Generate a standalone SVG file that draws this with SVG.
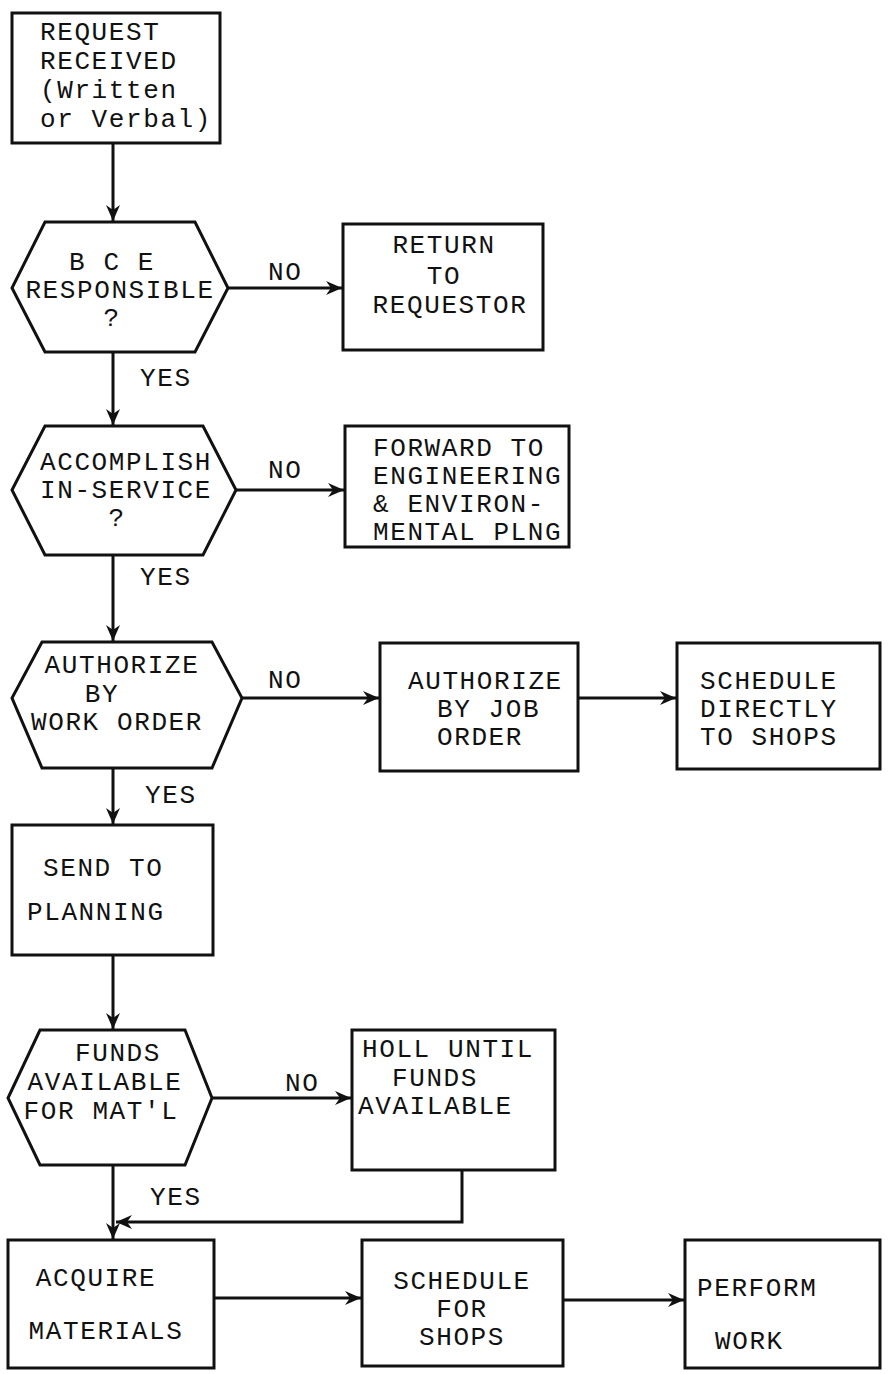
<svg xmlns="http://www.w3.org/2000/svg" width="890" height="1374" viewBox="0 0 890 1374">
<style>
.shape{fill:#fff;stroke:#111;stroke-width:3;stroke-linejoin:miter}
.t{font-family:"Liberation Mono","Courier New",monospace;font-size:26px;letter-spacing:1.6px;fill:#111}
.c{text-anchor:middle}
.conn{fill:none;stroke:#111;stroke-width:3}
</style>
<defs>
<marker id="ah" markerUnits="userSpaceOnUse" markerWidth="18" markerHeight="14" refX="16" refY="7" orient="auto">
<path d="M0,0 L16,7 L0,14 L5,7 z" fill="#111"/>
</marker>
</defs>
<rect width="890" height="1374" fill="#fff"/>

<g id="connectors">
<path class="conn" d="M113,143 V221" marker-end="url(#ah)"/>
<path class="conn" d="M228,288 H342" marker-end="url(#ah)"/>
<path class="conn" d="M113,352 V425" marker-end="url(#ah)"/>
<path class="conn" d="M236,490 H344" marker-end="url(#ah)"/>
<path class="conn" d="M113,555 V641" marker-end="url(#ah)"/>
<path class="conn" d="M242,698 H379" marker-end="url(#ah)"/>
<path class="conn" d="M578,698 H676" marker-end="url(#ah)"/>
<path class="conn" d="M113,768 V824" marker-end="url(#ah)"/>
<path class="conn" d="M113,955 V1029" marker-end="url(#ah)"/>
<path class="conn" d="M212,1098 H351" marker-end="url(#ah)"/>
<path class="conn" d="M113,1165 V1239" marker-end="url(#ah)"/>
<path class="conn" d="M462,1170 V1222 H116" marker-end="url(#ah)"/>
<path class="conn" d="M214,1298 H361" marker-end="url(#ah)"/>
<path class="conn" d="M563,1300 H684" marker-end="url(#ah)"/>
<text class="t" x="268" y="280">NO</text>
<text class="t" x="140" y="386">YES</text>
<text class="t" x="268" y="478">NO</text>
<text class="t" x="140" y="585">YES</text>
<text class="t" x="268" y="688">NO</text>
<text class="t" x="145" y="803">YES</text>
<text class="t" x="285" y="1091">NO</text>
<text class="t" x="150" y="1205">YES</text>
</g>

<g id="request-received">
<rect class="shape" x="12" y="13" width="208" height="130"/>
<text class="t" x="40" y="40">REQUEST</text>
<text class="t" x="40" y="69">RECEIVED</text>
<text class="t" x="40" y="98">(Written</text>
<text class="t" x="40" y="127">or Verbal)</text>
</g>

<g id="bce-responsible">
<polygon class="shape" points="45,222 195,222 228,288 195,352 45,352 12,288"/>
<text class="t c" x="112" y="270">B C E</text>
<text class="t c" x="120" y="298">RESPONSIBLE</text>
<text class="t c" x="112" y="326">?</text>
</g>

<g id="return-to-requestor">
<rect class="shape" x="343" y="224" width="200" height="126"/>
<text class="t c" x="444" y="253">RETURN</text>
<text class="t c" x="444" y="284">TO</text>
<text class="t c" x="450" y="313">REQUESTOR</text>
</g>

<g id="accomplish-in-service">
<polygon class="shape" points="45,426 203,426 236,490 203,555 45,555 12,490"/>
<text class="t c" x="126" y="470">ACCOMPLISH</text>
<text class="t c" x="126" y="498">IN-SERVICE</text>
<text class="t c" x="117" y="526">?</text>
</g>

<g id="forward-to-engineering">
<rect class="shape" x="345" y="426" width="224" height="121"/>
<text class="t" x="373" y="456">FORWARD TO</text>
<text class="t" x="373" y="484">ENGINEERING</text>
<text class="t" x="373" y="512">&amp; ENVIRON-</text>
<text class="t" x="373" y="540">MENTAL PLNG</text>
</g>

<g id="authorize-by-work-order">
<polygon class="shape" points="42,642 212,642 242,698 212,768 42,768 12,698"/>
<text class="t c" x="122" y="673">AUTHORIZE</text>
<text class="t c" x="102" y="702">BY</text>
<text class="t c" x="117" y="730">WORK ORDER</text>
</g>

<g id="authorize-by-job-order">
<rect class="shape" x="380" y="643" width="198" height="128"/>
<text class="t" x="408" y="689">AUTHORIZE</text>
<text class="t" x="437" y="717">BY JOB</text>
<text class="t" x="437" y="745">ORDER</text>
</g>

<g id="schedule-directly">
<rect class="shape" x="677" y="643" width="203" height="126"/>
<text class="t" x="700" y="689">SCHEDULE</text>
<text class="t" x="700" y="717">DIRECTLY</text>
<text class="t" x="700" y="745">TO SHOPS</text>
</g>

<g id="send-to-planning">
<rect class="shape" x="12" y="825" width="201" height="130"/>
<text class="t" x="43" y="876">SEND TO</text>
<text class="t" x="27" y="920">PLANNING</text>
</g>

<g id="funds-available">
<polygon class="shape" points="40,1030 185,1030 212,1098 185,1165 40,1165 8,1098"/>
<text class="t c" x="118" y="1061">FUNDS</text>
<text class="t c" x="105" y="1090">AVAILABLE</text>
<text class="t c" x="101" y="1119">FOR MAT'L</text>
</g>

<g id="hold-until-funds">
<rect class="shape" x="352" y="1030" width="203" height="140"/>
<text class="t" x="362" y="1057">HOLL UNTIL</text>
<text class="t" x="392" y="1086">FUNDS</text>
<text class="t" x="358" y="1114">AVAILABLE</text>
</g>

<g id="acquire-materials">
<rect class="shape" x="8" y="1240" width="206" height="128"/>
<text class="t c" x="96" y="1286">ACQUIRE</text>
<text class="t c" x="106" y="1339">MATERIALS</text>
</g>

<g id="schedule-for-shops">
<rect class="shape" x="362" y="1240" width="201" height="126"/>
<text class="t c" x="462" y="1289">SCHEDULE</text>
<text class="t c" x="462" y="1317">FOR</text>
<text class="t c" x="462" y="1345">SHOPS</text>
</g>

<g id="perform-work">
<rect class="shape" x="685" y="1240" width="195" height="128"/>
<text class="t" x="697" y="1296">PERFORM</text>
<text class="t" x="715" y="1349">WORK</text>
</g>
</svg>
